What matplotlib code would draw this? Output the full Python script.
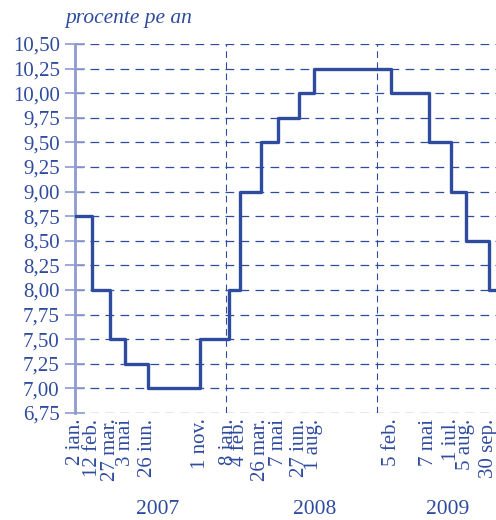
import datetime as dt
import matplotlib
matplotlib.use('Agg')
from matplotlib import pyplot as plt
import matplotlib.dates as mdates
import matplotlib.transforms as mtransforms

# rata dobanzii de politica monetara (procente pe an)
change_dates = ['2007-01-02', '2007-02-12', '2007-03-27', '2007-05-03', '2007-06-26',
                '2007-11-01', '2008-01-08', '2008-02-04', '2008-03-26', '2008-05-07',
                '2008-06-27', '2008-08-01', '2009-02-05', '2009-05-07', '2009-07-01',
                '2009-08-05', '2009-09-30']
rates = [8.75, 8.00, 7.50, 7.25, 7.00, 7.50, 8.00, 9.00, 9.50, 9.75,
         10.00, 10.25, 10.00, 9.50, 9.00, 8.50, 8.00]
tick_labels = ['2 ian.', '12 feb.', '27 mar.', '3 mai', '26 iun.', '1 nov.', '8 ian.',
               '4 feb.', '26 mar.', '7 mai', '27 iun.', '1 aug.', '5 feb.', '7 mai',
               '1 iul.', '5 aug.', '30 sep.']
years = ['2007', '2008', '2009']
year_label_pos = ['2007-07-19', '2008-08-03', '2009-06-21']
yticks = [6.75, 7.00, 7.25, 7.50, 7.75, 8.00, 8.25, 8.50, 8.75, 9.00,
          9.25, 9.50, 9.75, 10.00, 10.25, 10.50]

blue = '#2f4b9e'
light = '#8e9bd0'
fs = 15
plt.rcParams['font.family'] = ['Liberation Serif', 'DejaVu Serif']

def d(s):
    return dt.datetime.strptime(s, '%Y-%m-%d')

x = [d(s) for s in change_dates]
x_end = d('2009-10-17')

fig = plt.figure(figsize=(4.96, 5.2), dpi=100)
ax = fig.add_axes([75/496, 1-413/520, 1-75/496, (413-44)/520])

ax.step(x + [x_end], rates + [rates[-1]], where='post', color=blue, lw=2.4, zorder=3)

ax.set_xlim(d('2007-01-01'), x_end)
ax.set_ylim(6.75, 10.5)
ax.set_yticks(yticks)
ax.set_yticklabels([('%.2f' % v).replace('.', ',') for v in yticks], color=blue, fontsize=fs)
ax.set_xticks([mdates.date2num(v) for v in x])
ax.set_xticklabels(tick_labels, rotation=90, color=blue, fontsize=fs)
ax.tick_params(axis='x', length=0, pad=4)
ax.tick_params(axis='y', direction='inout', length=14, width=1.2, color=light, pad=4)

ax.yaxis.grid(True, color=blue, lw=0.9, dashes=(7, 5))
ax.set_axisbelow(True)
for yr in ['2008-01-01', '2009-01-01']:
    ax.axvline(d(yr), color=blue, lw=0.8, dashes=(6, 4), zorder=1)

for s in ['top', 'right', 'bottom']:
    ax.spines[s].set_visible(False)
ax.spines['left'].set_color(light)
ax.spines['left'].set_linewidth(2)

# year labels below the date labels
trans = mtransforms.blended_transform_factory(ax.transData, fig.transFigure)
for lab, pos in zip(years, year_label_pos):
    ax.text(d(pos), 1-510/520, lab, transform=trans, ha='center', va='center',
            color=blue, fontsize=fs + 0.5)

fig.text(65/496, 1-18/520, 'procente pe an', style='italic', color=blue, fontsize=fs + 0.5,
         ha='left', va='center')

fig.savefig('out.png', dpi=100)
